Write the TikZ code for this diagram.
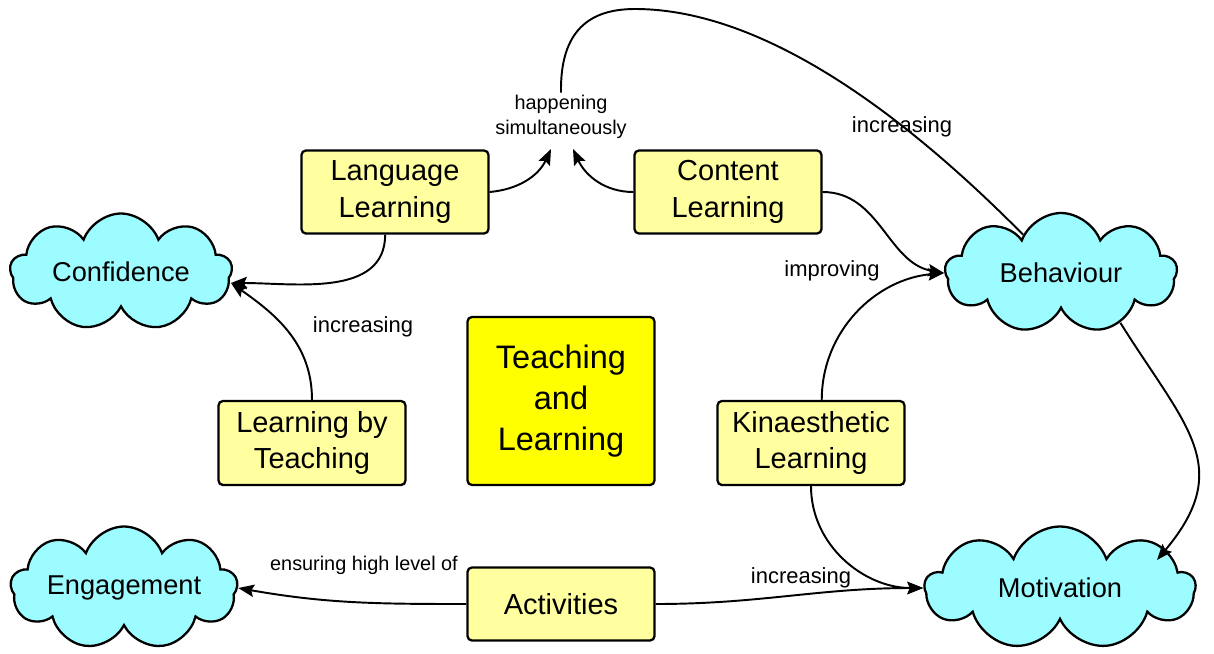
\documentclass[tikz,border=0pt]{standalone}
\usepackage{fontspec}
\setmainfont{Liberation Sans}
\usetikzlibrary{shapes.symbols,arrows.meta}

\definecolor{cloudblue}{HTML}{9CFCFF}
\definecolor{paleyellow}{HTML}{FFFFA0}
\definecolor{brightyellow}{HTML}{FFFF00}

\tikzset{
  idea/.style={draw, line width=1.3pt, fill=paleyellow, rounded corners=2.5pt,
    align=center, minimum width=3.74cm, inner sep=0pt,
    font=\fontsize{16.5}{21}\selectfont},
  mood/.style={cloud, cloud puffs=9, cloud puff arc=140, cloud ignores aspect,
    draw, line width=1.3pt, fill=cloudblue, minimum width=4.44cm,
    minimum height=2.34cm, inner sep=0pt, font=\fontsize{15.5}{19}\selectfont},
  link/.style={font=\fontsize{12.5}{15}\selectfont},
  smalllink/.style={font=\fontsize{11.3}{14.2}\selectfont, align=center, inner sep=1pt},
}

\begin{document}
\begin{tikzpicture}[x=0.02cm, y=-0.02cm, line width=1.1pt,
    >={Stealth[length=9pt,width=7pt,inset=1.5pt]}]
    \useasboundingbox (0,0) rectangle (1214,653);

    % the clouds
    \node[mood] (conf) at (121,272) {Confidence};
    \node[mood, minimum width=4.54cm, minimum height=2.46cm] (engage) at (124,588) {Engagement};
    \node[mood, minimum width=4.64cm, minimum height=2.4cm] (behav) at (1061,273) {Behaviour};
    \node[mood, minimum width=5.4cm, minimum height=2.46cm] (motiv) at (1060,588) {Motivation};

    % the boxes
    \node[idea, minimum height=1.66cm] (lang) at (395,192) {Language\\Learning};
    \node[idea, minimum height=1.66cm] (content) at (728,192) {Content\\Learning};
    \node[idea, minimum height=1.68cm] (lbt) at (312,443) {Learning by\\Teaching};
    \node[idea, fill=brightyellow, minimum height=3.36cm,
      font=\fontsize{18.5}{23.3}\selectfont] (tl) at (561,401) {Teaching\\and\\Learning};
    \node[idea, minimum height=1.68cm] (kin) at (811,443) {Kinaesthetic\\Learning};
    \node[idea, minimum height=1.46cm] (act) at (561,604) {Activities};

    % the text in the middle at the top
    \node[smalllink] (simul) at (561,117) {happening\\simultaneously};
    \coordinate (simulL) at (551,149);
    \coordinate (simulR) at (573,149);
    \coordinate (confin) at (231,283);
    \coordinate (motivin) at (1157,560);

    % arrows to happening simultaneously
    \draw[->] (lang.east) to[out=5,in=-115] (simulL);
    \draw[->] (content.west) to[out=180,in=-65] (simulR);

    % arrows to Confidence
    \draw[->] (lang.257) to[out=-90,in=0] (confin);
    \draw[->] (lbt.north) to[out=90,in=-35] (confin);
    \node[link] (lblconf) at (363,327) {increasing};

    % the long line over the top to Behaviour
    \draw (simul.north) .. controls (560,30) and (590,9) .. (635,9)
      .. controls (740,9) and (870,80) .. (behav);
    \node[link] (lbltop) at (902,127) {increasing};

    % arrows to Behaviour
    \draw[->] (content.east) to[out=0,in=170] (behav.west);
    \draw[->] (kin.76) to[out=90,in=185] (behav.west);
    \node[link] (lblbehav) at (832,271) {improving};

    % arrows to Motivation
    \draw[->] (behav.-40) to[out=-58,in=50,looseness=1.3] (motivin);
    \draw[->] (kin.south) to[out=-90,in=180] (motiv.west);
    \draw[->] (act.east) to[out=0,in=180] (motiv.west);
    \node[link] (lblmotiv) at (801,578) {increasing};

    % arrow to Engagement
    \draw[->] (act.west) to[out=180,in=-10] (engage.east);
    \node[smalllink] (lblengage) at (364,565) {ensuring high level of};
\end{tikzpicture}
\end{document}
